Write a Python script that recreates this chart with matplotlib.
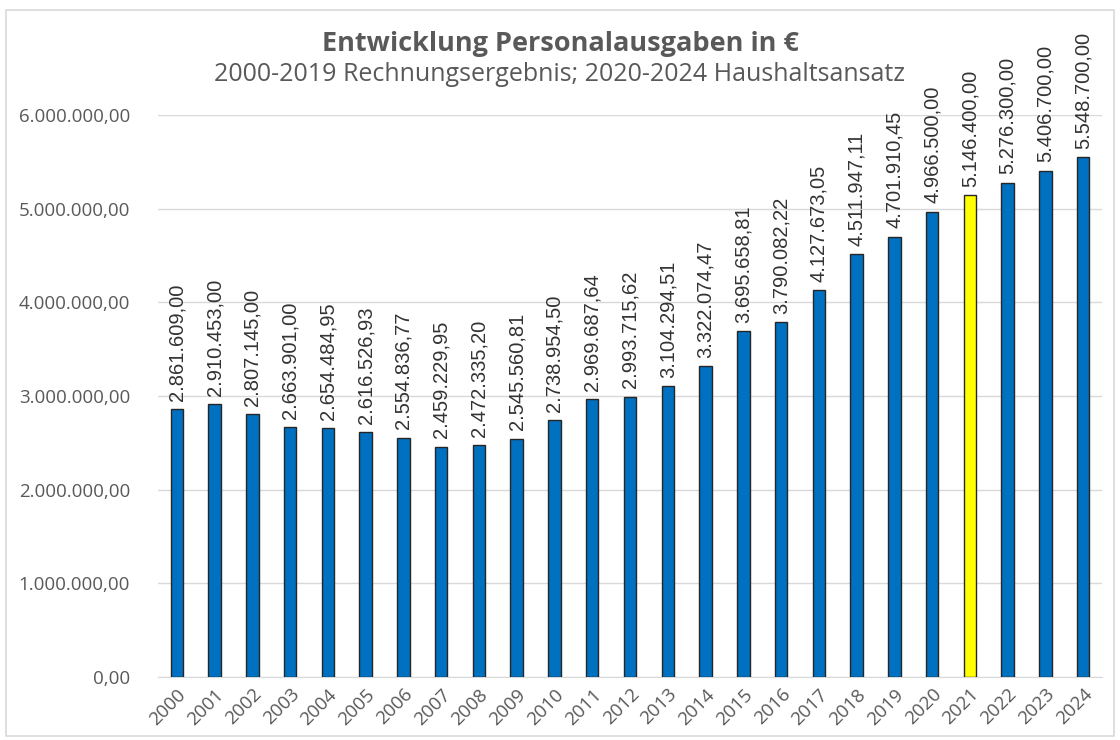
import matplotlib
matplotlib.use("Agg")
from matplotlib import pyplot as plt
from matplotlib.patches import Rectangle
from matplotlib.ticker import FuncFormatter
import numpy as np

years = [str(y) for y in range(2000, 2025)]
values = [2861609.00, 2910453.00, 2807145.00, 2663901.00, 2654484.95,
          2616526.93, 2554836.77, 2459229.95, 2472335.20, 2545560.81,
          2738954.50, 2969687.64, 2993715.62, 3104294.51, 3322074.47,
          3695658.81, 3790082.22, 4127673.05, 4511947.11, 4701910.45,
          4966500.00, 5146400.00, 5276300.00, 5406700.00, 5548700.00]
highlight_year = "2021"

def de_format(v):
    s = f"{v:,.2f}"
    return s.replace(",", "X").replace(".", ",").replace("X", ".")

colors = ["#FFFF00" if y == highlight_year else "#0070C0" for y in years]

plt.rcParams['font.family'] = ['Open Sans', 'DejaVu Sans']
fig = plt.figure(figsize=(11.2, 7.4), dpi=100)
ax = fig.add_axes([0.141, 0.0851, 0.843, 0.7595])

x = np.arange(len(years))
bars = ax.bar(x, values, width=0.33, color=colors, edgecolor="#262626",
              linewidth=1.0, zorder=3)

for xi, v in zip(x, values):
    ax.annotate(de_format(v), (xi, v), xytext=(0, 6), textcoords="offset points",
                rotation=90, ha="center", va="bottom", fontsize=14.5,
                color="#333333", family=['Liberation Sans Narrow', 'Liberation Sans'])

ax.set_xlim(-0.5, len(years) - 0.5)
ax.set_ylim(0, 6000000)
ax.set_yticks(np.arange(0, 6000001, 1000000))
ax.yaxis.set_major_formatter(FuncFormatter(lambda v, p: de_format(v)))
ax.set_xticks(x)
ax.set_xticklabels(years, rotation=45, ha="right", rotation_mode="anchor")
ax.tick_params(axis="y", length=0, labelsize=13.5, labelcolor="#595959", pad=20)
ax.tick_params(axis="x", length=0, labelsize=13.5, labelcolor="#595959", pad=6)
ax.grid(axis="y", color="#d9d9d9", linewidth=1, zorder=0)
for s in ["top", "right", "left"]:
    ax.spines[s].set_visible(False)
ax.spines["bottom"].set_color("#d9d9d9")

fig.text(0.5, 0.941, "Entwicklung Personalausgaben in €", ha="center", va="center",
         fontsize=19.5, fontweight="bold", color="#595959")
fig.text(0.5, 0.899, "2000-2019 Rechnungsergebnis; 2020-2024 Haushaltsansatz",
         ha="center", va="center", fontsize=18, color="#595959")

fig.patches.append(Rectangle((0.005, 0.006), 0.99, 0.98, transform=fig.transFigure,
                             fill=False, edgecolor="#d9d9d9", linewidth=1.2))

fig.savefig("out.png", dpi=100)
